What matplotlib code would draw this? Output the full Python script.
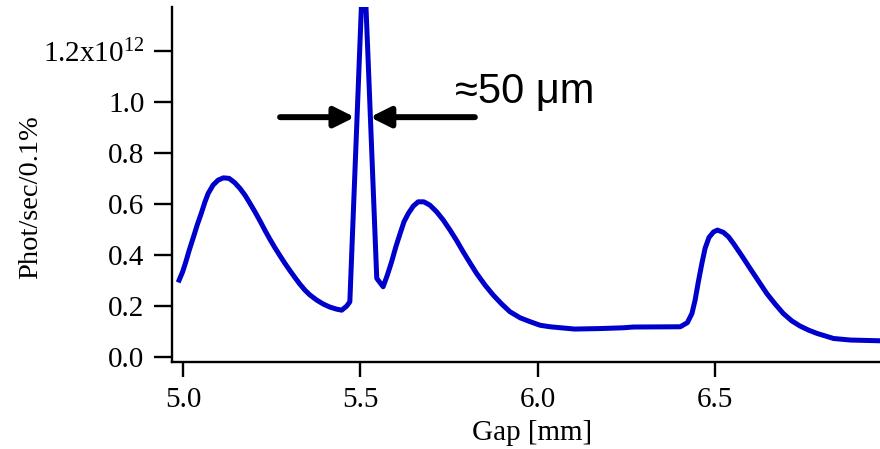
import matplotlib
matplotlib.use("Agg")
import matplotlib.pyplot as plt

# ---- data (flux in units of 1e12 phot/sec/0.1%) ----
gap = [4.988, 4.998, 5.007, 5.016, 5.028, 5.039, 5.051, 5.061, 5.070, 5.084,
       5.098, 5.113, 5.129, 5.145, 5.160, 5.174, 5.188, 5.202, 5.216, 5.230,
       5.244, 5.258, 5.273, 5.287, 5.301, 5.315, 5.329, 5.343, 5.357, 5.376,
       5.395, 5.414, 5.433, 5.447, 5.461, 5.470,
       5.509, 5.522,
       5.546, 5.564, 5.576, 5.588, 5.600, 5.612, 5.623, 5.635, 5.649, 5.663,
       5.679, 5.696, 5.715, 5.734, 5.753, 5.772, 5.790, 5.809, 5.828, 5.852,
       5.875, 5.899, 5.922, 5.951, 5.979, 6.007, 6.035, 6.105, 6.177, 6.242,
       6.271, 6.403, 6.423, 6.436, 6.445, 6.454, 6.464, 6.473, 6.484, 6.497,
       6.508, 6.525, 6.539, 6.553, 6.577, 6.600, 6.624, 6.647, 6.671, 6.694,
       6.718, 6.741, 6.765, 6.789, 6.836, 6.883, 6.967]
flux = [0.302, 0.335, 0.374, 0.417, 0.469, 0.518, 0.566, 0.609, 0.642, 0.675,
        0.694, 0.703, 0.701, 0.684, 0.661, 0.635, 0.603, 0.570, 0.535, 0.498,
        0.463, 0.430, 0.397, 0.367, 0.339, 0.312, 0.286, 0.263, 0.244, 0.224,
        0.208, 0.196, 0.188, 0.184, 0.200, 0.217,
        1.600, 1.153,
        0.309, 0.276, 0.322, 0.374, 0.433, 0.485, 0.531, 0.563, 0.592, 0.609,
        0.609, 0.596, 0.570, 0.537, 0.498, 0.456, 0.413, 0.370, 0.328, 0.282,
        0.243, 0.208, 0.178, 0.154, 0.139, 0.125, 0.119, 0.110, 0.112, 0.115,
        0.118, 0.119, 0.135, 0.171, 0.224, 0.295, 0.367, 0.426, 0.469, 0.491,
        0.498, 0.489, 0.472, 0.446, 0.397, 0.348, 0.298, 0.250, 0.208, 0.171,
        0.142, 0.122, 0.106, 0.093, 0.073, 0.067, 0.064]

xticks = [5.0, 5.5, 6.0, 6.5]
xtick_labels = ["5.0", "5.5", "6.0", "6.5"]
yticks = [0.0, 0.2, 0.4, 0.6, 0.8, 1.0, 1.2]
ytick_labels = ["0.0", "0.2", "0.4", "0.6", "0.8", "1.0", r"1.2x10$^{12}$"]

xlabel = "Gap [mm]"
ylabel = "Phot/sec/0.1%"
annot_text = "\u224850 \u03bcm"

# arrows: (tail_x, tip_x, y)
arrow_left = (5.273, 5.484, 0.941)
arrow_right = (5.823, 5.527, 0.941)

plt.rcParams["mathtext.fontset"] = "custom"
plt.rcParams["mathtext.rm"] = "Liberation Serif"
plt.rcParams["mathtext.it"] = "Liberation Serif:italic"
plt.rcParams["mathtext.default"] = "regular"

W, H = 880, 449
fig = plt.figure(figsize=(W / 100, H / 100), dpi=100)
L, B, T = 171.7, 361.7, 7.0
ax = fig.add_axes([L / W, (H - B) / H, 1 - L / W, (B - T) / H])

ax.plot(gap, flux, color="#0000CC", lw=3.6, solid_joinstyle="round")

ax.set_xlim(4.967, 6.967)
ax.set_ylim(-0.018, 1.373)

for s in ["top", "right"]:
    ax.spines[s].set_visible(False)
for s in ["left", "bottom"]:
    ax.spines[s].set_linewidth(1.7)

serif = "Liberation Serif"
fs = 21
ax.set_xticks(xticks)
ax.set_xticklabels(xtick_labels, fontfamily=serif, fontsize=fs)
ax.set_yticks(yticks)
ax.set_yticklabels(ytick_labels, fontfamily=serif, fontsize=fs)
ax.tick_params(axis="x", direction="out", length=11, width=1.7, pad=7.5)
ax.tick_params(axis="y", direction="out", length=13, width=1.7, pad=6.5)

fig.text(532 / W, 1 - 433 / H, xlabel, fontfamily=serif, fontsize=fs,
         ha="center", va="center")
fig.text(31 / W, 1 - 197 / H, ylabel, fontfamily=serif, fontsize=20.5,
         rotation=90, ha="center", va="center")

for tail, tip, yy in (arrow_left, arrow_right):
    ax.annotate("", xy=(tip, yy), xytext=(tail, yy),
                arrowprops=dict(arrowstyle="-|>,head_length=0.4,head_width=0.2",
                                lw=4.3, color="black", shrinkA=0, shrinkB=0,
                                mutation_scale=30))

ax.text(5.767, 0.996, annot_text, fontfamily="Liberation Sans", fontsize=30,
        ha="left", va="baseline")

fig.savefig("out.png", dpi=100)
